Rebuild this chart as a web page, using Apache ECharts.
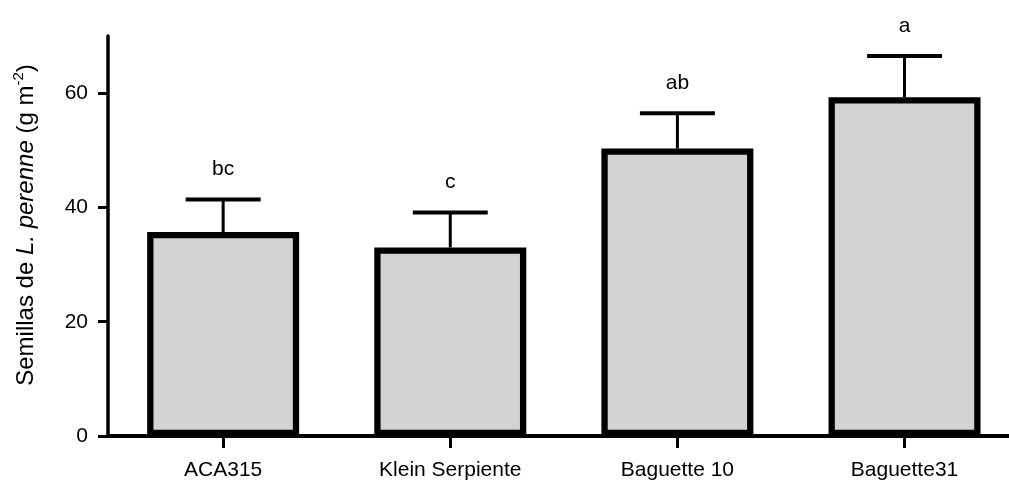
<!DOCTYPE html>
<html>
<head>
<meta charset="utf-8">
<script src="https://cdn.jsdelivr.net/npm/echarts@6/dist/echarts.min.js"></script>
<style>html,body{margin:0;padding:0;background:#fff;}#c{width:1009px;height:484px;}</style>
</head>
<body>
<div id="c"></div>
<script>
const categories = ['ACA315', 'Klein Serpiente', 'Baguette 10', 'Baguette31'];
const means = [35.7, 33.0, 50.3, 59.3];
const errors = [5.7, 6.1, 6.2, 7.2];
const letters = ['bc', 'c', 'ab', 'a'];
const yTicks = [0, 20, 40, 60];

const FONT = '"Liberation Sans", Arial, sans-serif';
const chart = echarts.init(document.getElementById('c'), null, {renderer: 'canvas'});

const idx = categories.map((c, i) => i);
const barData = categories.map((c, i) => [i, means[i]]);
const errData = categories.map((c, i) => [i, means[i], errors[i]]);

chart.setOption({
  animation: false,
  backgroundColor: '#fff',
  grid: {left: 108, top: 36, width: 901, height: 400},
  xAxis: {
    type: 'value', min: -0.507, max: 3.46,
    axisLine: {show: true, onZero: false, lineStyle: {color: '#000', width: 4}},
    axisTick: {show: true, customValues: idx, length: 12, lineStyle: {color: '#000', width: 3}},
    axisLabel: {show: true, customValues: idx, color: '#000', fontSize: 21, fontFamily: FONT, margin: 24,
      formatter: v => categories[Math.round(v)] || ''},
    splitLine: {show: false}
  },
  yAxis: {
    type: 'value', min: 0, max: 70,
    axisLine: {show: true, onZero: false, lineStyle: {color: '#000', width: 3.5}},
    axisTick: {show: true, customValues: yTicks, length: 10, lineStyle: {color: '#000', width: 3}},
    axisLabel: {show: true, customValues: yTicks, color: '#000', fontSize: 21, fontFamily: FONT, margin: 20},
    splitLine: {show: false},
    name: '{n|Semillas de }{i|L. perenne}{n| (g m}{s|-2}{n|)}',
    nameLocation: 'middle', nameGap: 66, nameRotate: 90,
    nameTextStyle: {
      color: '#000', fontSize: 24, fontFamily: FONT, padding: [0, 0, 0, 22],
      rich: {
        n: {fontSize: 24, fontFamily: FONT, color: '#000'},
        i: {fontSize: 24, fontFamily: FONT, fontStyle: 'italic', color: '#000'},
        s: {fontSize: 15, fontFamily: FONT, color: '#000', padding: [0, 0, 16, 0]}
      }
    }
  },
  series: [
    {
      type: 'bar',
      data: barData, barWidth: 152,
      itemStyle: {color: '#d3d3d3', borderColor: '#000', borderWidth: 6.3},
      z: 3
    },
    {
      type: 'custom',
      data: errData, z: 2,
      renderItem: function (params, api) {
        const i = api.value(0), m = api.value(1), e = api.value(2);
        const base = api.coord([i, m]);
        const top = api.coord([i, m + e]);
        const half = api.size([1, 0])[0] * 0.165;
        return {
          type: 'group',
          children: [
            {type: 'line', shape: {x1: base[0], y1: base[1], x2: top[0], y2: top[1]},
             style: {stroke: '#000', lineWidth: 3}},
            {type: 'line', shape: {x1: top[0] - half, y1: top[1], x2: top[0] + half, y2: top[1]},
             style: {stroke: '#000', lineWidth: 4}},
            {type: 'text', style: {text: letters[params.dataIndex], x: top[0], y: top[1] - 30,
              align: 'center', verticalAlign: 'middle', fill: '#000', fontSize: 21, fontFamily: FONT}}
          ]
        };
      }
    }
  ]
});
</script>
</body>
</html>
